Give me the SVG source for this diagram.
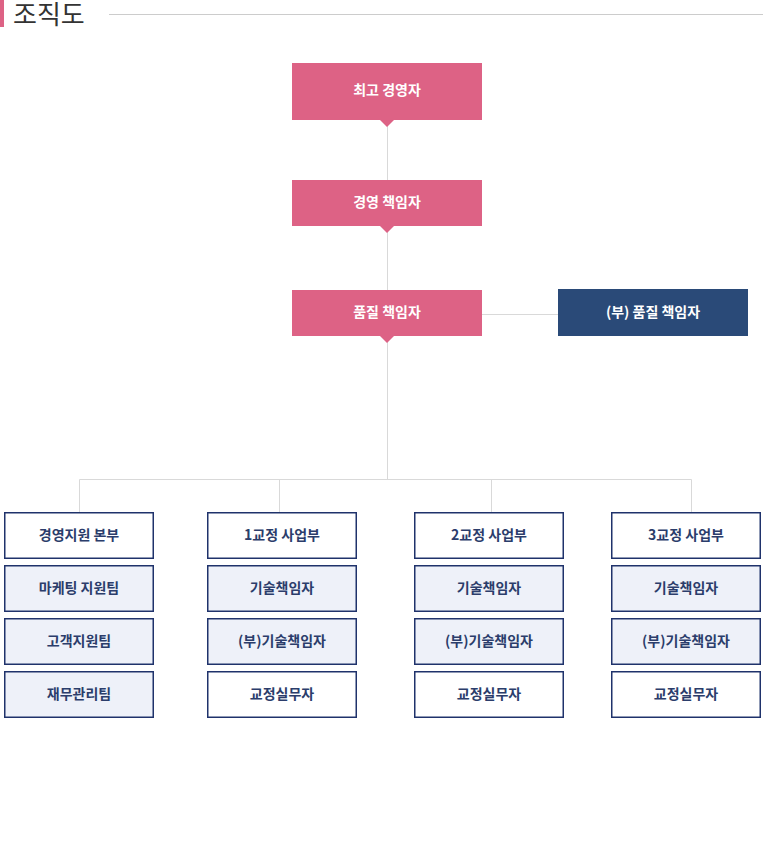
<svg xmlns="http://www.w3.org/2000/svg" width="763" height="849" viewBox="0 0 763 849">
<style>
.t{font-family:"Noto Sans CJK KR","Noto Sans",sans-serif;font-weight:bold;font-size:14px;text-anchor:middle;dominant-baseline:central}
.w{fill:#ffffff}
.n{fill:#2b3d6b}
.pk{fill:#dd6285}
.nv{fill:#2a4a78}
.b{stroke:#1f326b;stroke-width:1.5}
.bw{fill:#ffffff}
.bl{fill:#eef1f9}
.ln{stroke:#d9d9d9;stroke-width:1;fill:none}
</style>
<rect width="763" height="849" fill="#ffffff"/>
<g id="title">
<rect x="0" y="0" width="4" height="27" fill="#dd6285"/>
<text x="13" y="24" font-family="'Noto Sans CJK KR',sans-serif" font-size="26" fill="#333333">조직도</text>
<line x1="109" y1="14.5" x2="763" y2="14.5" stroke="#cccccc" stroke-width="1"/>
</g>
<g id="connectors">
<line class="ln" x1="387.5" y1="120" x2="387.5" y2="180"/>
<line class="ln" x1="387.5" y1="226" x2="387.5" y2="290"/>
<line class="ln" x1="387.5" y1="336" x2="387.5" y2="479.5"/>
<line class="ln" x1="482" y1="314.5" x2="558" y2="314.5"/>
<polyline class="ln" points="79.5,512 79.5,479.5 691.5,479.5 691.5,512"/>
<line class="ln" x1="279.5" y1="479.5" x2="279.5" y2="512"/>
<line class="ln" x1="491.5" y1="479.5" x2="491.5" y2="512"/>
</g>
<g id="ceo">
<rect class="pk" x="292" y="63" width="190" height="57"/>
<polygon class="pk" points="380,120 394,120 387,127"/>
<text class="t w" x="387" y="89">최고 경영자</text>
</g>
<g id="mgmt">
<rect class="pk" x="292" y="180" width="190" height="46"/>
<polygon class="pk" points="380,226 394,226 387,233"/>
<text class="t w" x="387" y="201">경영 책임자</text>
</g>
<g id="quality">
<rect class="pk" x="292" y="290" width="190" height="46"/>
<polygon class="pk" points="380,336 394,336 387,343"/>
<text class="t w" x="387" y="311">품질 책임자</text>
</g>
<g id="subquality">
<rect class="nv" x="558" y="289" width="190" height="47"/>
<text class="t w" x="653" y="311">(부) 품질 책임자</text>
</g>
<g id="col1">
<rect class="b bw" x="4.75" y="512.75" width="148.5" height="45.5"/>
<text class="t n" x="79" y="534">경영지원 본부</text>
<rect class="b bl" x="4.75" y="565.75" width="148.5" height="45.5"/>
<text class="t n" x="79" y="587">마케팅 지원팀</text>
<rect class="b bl" x="4.75" y="618.75" width="148.5" height="45.5"/>
<text class="t n" x="79" y="640">고객지원팀</text>
<rect class="b bl" x="4.75" y="671.75" width="148.5" height="45.5"/>
<text class="t n" x="79" y="693">재무관리팀</text>
</g>
<g id="col2">
<rect class="b bw" x="207.75" y="512.75" width="148.5" height="45.5"/>
<text class="t n" x="282" y="534">1교정 사업부</text>
<rect class="b bl" x="207.75" y="565.75" width="148.5" height="45.5"/>
<text class="t n" x="282" y="587">기술책임자</text>
<rect class="b bl" x="207.75" y="618.75" width="148.5" height="45.5"/>
<text class="t n" x="282" y="640">(부)기술책임자</text>
<rect class="b bw" x="207.75" y="671.75" width="148.5" height="45.5"/>
<text class="t n" x="282" y="693">교정실무자</text>
</g>
<g id="col3">
<rect class="b bw" x="414.75" y="512.75" width="148.5" height="45.5"/>
<text class="t n" x="489" y="534">2교정 사업부</text>
<rect class="b bl" x="414.75" y="565.75" width="148.5" height="45.5"/>
<text class="t n" x="489" y="587">기술책임자</text>
<rect class="b bl" x="414.75" y="618.75" width="148.5" height="45.5"/>
<text class="t n" x="489" y="640">(부)기술책임자</text>
<rect class="b bw" x="414.75" y="671.75" width="148.5" height="45.5"/>
<text class="t n" x="489" y="693">교정실무자</text>
</g>
<g id="col4">
<rect class="b bw" x="611.75" y="512.75" width="148.5" height="45.5"/>
<text class="t n" x="686" y="534">3교정 사업부</text>
<rect class="b bl" x="611.75" y="565.75" width="148.5" height="45.5"/>
<text class="t n" x="686" y="587">기술책임자</text>
<rect class="b bl" x="611.75" y="618.75" width="148.5" height="45.5"/>
<text class="t n" x="686" y="640">(부)기술책임자</text>
<rect class="b bw" x="611.75" y="671.75" width="148.5" height="45.5"/>
<text class="t n" x="686" y="693">교정실무자</text>
</g>
</svg>
